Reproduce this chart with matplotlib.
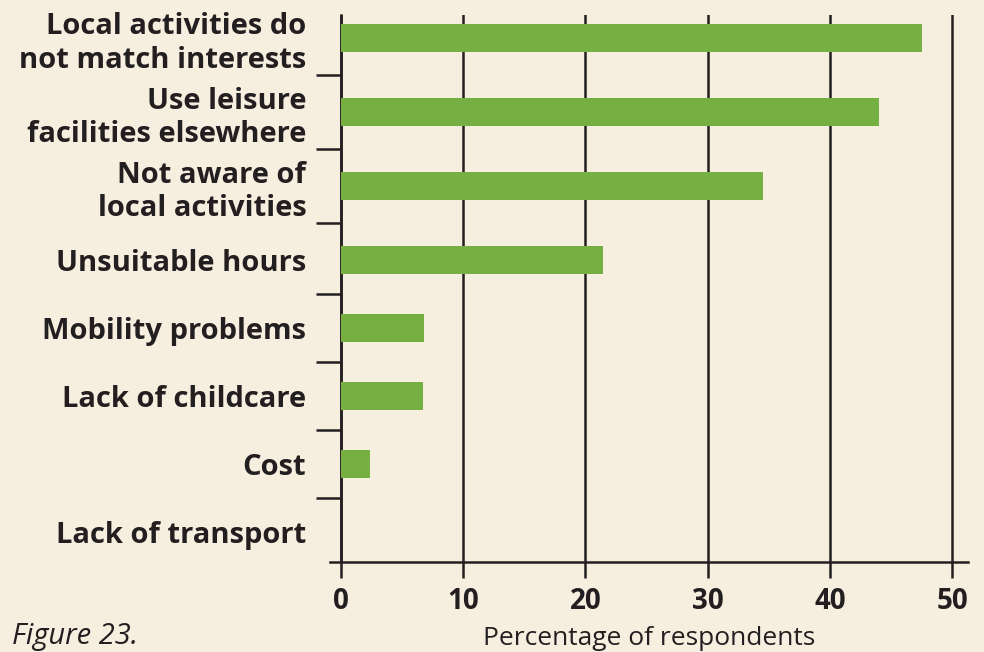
import matplotlib.pyplot as plt
import numpy as np

categories = [
    "Local activities do\nnot match interests",
    "Use leisure\nfacilities elsewhere",
    "Not aware of\nlocal activities",
    "Unsuitable hours",
    "Mobility problems",
    "Lack of childcare",
    "Cost",
    "Lack of transport",
]
percent = [47.5, 44.0, 34.5, 21.4, 6.8, 6.7, 2.4, 0.0]
x_ticks = [0, 10, 20, 30, 40, 50]

bg = "#F6EEDF"
green = "#76B043"
ink = "#231F20"

plt.rcParams["font.family"] = ["Open Sans", "DejaVu Sans"]

# two-line labels get a little more room than one-line labels
pos = [0.0]
for lab in categories[:-1]:
    pos.append(pos[-1] + (1.09 if "\n" in lab else 1.0))
pos = np.array(pos)

fig = plt.figure(figsize=(9.84, 6.52), dpi=100, facecolor=bg)
ax = fig.add_axes([330 / 984, 1 - 562 / 652, (968 - 330) / 984, (562 - 15) / 652])
ax.set_facecolor(bg)

ax.barh(pos, percent, height=0.41, color=green, zorder=3)

ax.set_xlim(-0.9, 51.3)
ax.set_ylim(pos[-1] + 30 / 68, -23 / 68)

for x in x_ticks:
    ax.axvline(x, color=ink, lw=1.8, zorder=2)

ax.spines["left"].set_position(("data", 0))
ax.spines["left"].set_color(ink)
ax.spines["left"].set_linewidth(1.8)
ax.spines["bottom"].set_color(ink)
ax.spines["bottom"].set_linewidth(1.8)
ax.spines["top"].set_visible(False)
ax.spines["right"].set_visible(False)

ax.set_xticks(x_ticks)
ax.set_xticklabels([str(v) for v in x_ticks], fontsize=20, fontweight="bold", color=ink)
ax.tick_params(axis="x", length=11.5, width=1.8, color=ink, pad=6.5)

ax.set_yticks(pos)
ax.set_yticklabels(categories, fontsize=21, fontweight="bold", color=ink, linespacing=1.22)
ax.tick_params(axis="y", which="major", length=0, pad=25)
ax.set_yticks((pos[:-1] + pos[1:]) / 2, minor=True)
ax.tick_params(axis="y", which="minor", length=18, width=1.8, color=ink)

ax.set_xlabel("Percentage of respondents", fontsize=19, color=ink, labelpad=7)
fig.text(12 / 984, 1 - 644 / 652, "Figure 23.", fontsize=21, style="italic", color=ink,
         va="baseline")

fig.savefig("out.png", dpi=100, facecolor=bg)
